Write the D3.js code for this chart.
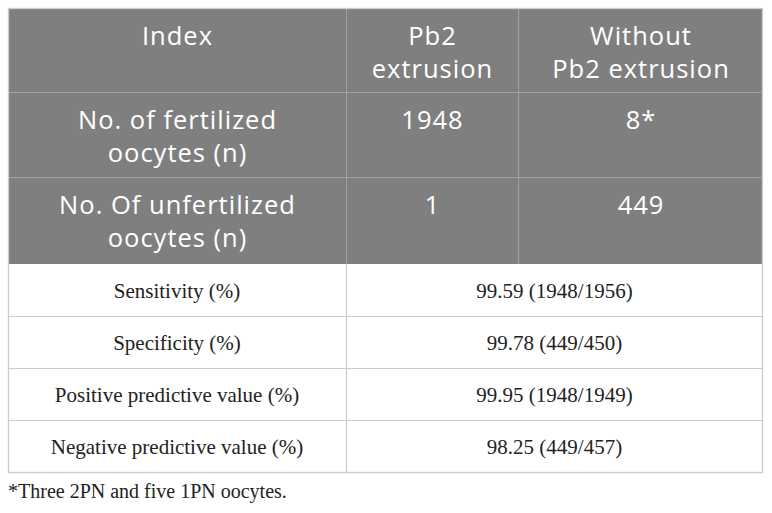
<!DOCTYPE html>
<html>
<head>
<meta charset="utf-8">
<script src="https://cdn.jsdelivr.net/npm/d3@7"></script>
<style>
  html, body { margin: 0; padding: 0; background: #fff; }
  svg { display: block; }
</style>
</head>
<body>
<div id="chart"></div>
<script>
// ---- data ----
const headerCells = [["Index"], ["Pb2", "extrusion"], ["Without", "Pb2 extrusion"]];
const countRowLabels = [["No. of fertilized", "oocytes (n)"], ["No. Of unfertilized", "oocytes (n)"]];
const withPb2 = [1948, 1];
const withoutPb2 = ["8*", "449"];
const metricLabels = ["Sensitivity (%)", "Specificity (%)", "Positive predictive value (%)", "Negative predictive value (%)"];
const metricValues = ["99.59 (1948/1956)", "99.78 (449/450)", "99.95 (1948/1949)", "98.25 (449/457)"];
const footnote = "*Three 2PN and five 1PN oocytes.";

// ---- layout ----
const W = 772, H = 513;
const tLeft = 8, tRight = 763, tTop = 8;
const colEdges = [tLeft, 346, 518, tRight];
const grayRowEdges = [tTop, 92, 177, 264];
const whiteRowEdges = [264, 317, 369, 421, 472];
const gray = "#7f7f7f", grayLine = "#a0a0a0", lightLine = "#cccccc";
const sansFont = "'Open Sans', sans-serif";
const serifFont = "'Liberation Serif', 'Times New Roman', serif";

const svg = d3.select("#chart").append("svg").attr("width", W).attr("height", H);

const grayRows = [headerCells].concat(
  countRowLabels.map((lab, i) => [lab, [String(withPb2[i])], [withoutPb2[i]]])
);

const yGray = d3.scaleOrdinal().domain(d3.range(grayRows.length)).range(grayRowEdges.slice(0, -1));
const yWhite = d3.scaleBand().domain(d3.range(metricLabels.length)).range([whiteRowEdges[0], whiteRowEdges[4]]);

svg.append("rect").attr("x", tLeft).attr("y", tTop)
  .attr("width", tRight - tLeft).attr("height", grayRowEdges[3] - tTop).attr("fill", gray);

const gg = svg.append("g");
[1, 2].forEach(i => gg.append("line")
  .attr("x1", tLeft).attr("x2", tRight).attr("y1", grayRowEdges[i] + 0.5).attr("y2", grayRowEdges[i] + 0.5)
  .attr("stroke", grayLine).attr("stroke-width", 1));
[1, 2].forEach(i => gg.append("line")
  .attr("x1", colEdges[i] + 0.5).attr("x2", colEdges[i] + 0.5).attr("y1", tTop).attr("y2", grayRowEdges[3])
  .attr("stroke", grayLine).attr("stroke-width", 1));

grayRows.forEach((row, r) => {
  row.forEach((lines, c) => {
    const cx = (colEdges[c] + colEdges[c + 1]) / 2 + 0.5;
    const t = svg.append("text")
      .attr("x", cx).attr("y", yGray(r) + 37)
      .attr("text-anchor", "middle")
      .attr("fill", "#ffffff")
      .style("font-family", sansFont)
      .style("font-size", "25.5px")
      .style("letter-spacing", "1px");
    lines.forEach((ln, k) => {
      t.append("tspan").attr("x", cx).attr("dy", k === 0 ? 0 : 32.5).text(ln);
    });
  });
});

const wg = svg.append("g");
d3.range(1, metricLabels.length).forEach(i => wg.append("line")
  .attr("x1", tLeft).attr("x2", tRight)
  .attr("y1", yWhite(i) + 0.5).attr("y2", yWhite(i) + 0.5)
  .attr("stroke", lightLine).attr("stroke-width", 1.2));
wg.append("line").attr("x1", colEdges[1] + 0.5).attr("x2", colEdges[1] + 0.5)
  .attr("y1", whiteRowEdges[0]).attr("y2", whiteRowEdges[4])
  .attr("stroke", lightLine).attr("stroke-width", 1.2);

svg.append("rect").attr("x", tLeft + 0.5).attr("y", tTop + 0.5)
  .attr("width", tRight - tLeft - 1).attr("height", whiteRowEdges[4] - tTop)
  .attr("fill", "none").attr("stroke", lightLine).attr("stroke-width", 1.3);

metricLabels.forEach((lab, i) => {
  const yc = yWhite(i) + yWhite.bandwidth() / 2 + 7.5;
  svg.append("text").attr("x", (colEdges[0] + colEdges[1]) / 2).attr("y", yc)
    .attr("text-anchor", "middle").attr("fill", "#222")
    .style("font-family", serifFont).style("font-size", "21px")
    .text(lab);
  svg.append("text").attr("x", (colEdges[1] + colEdges[3]) / 2).attr("y", yc)
    .attr("text-anchor", "middle").attr("fill", "#222")
    .style("font-family", serifFont).style("font-size", "21px")
    .text(metricValues[i]);
});

svg.append("text").attr("x", tLeft).attr("y", 498)
  .attr("fill", "#222")
  .style("font-family", serifFont).style("font-size", "20px")
  .text(footnote);
</script>
</body>
</html>
